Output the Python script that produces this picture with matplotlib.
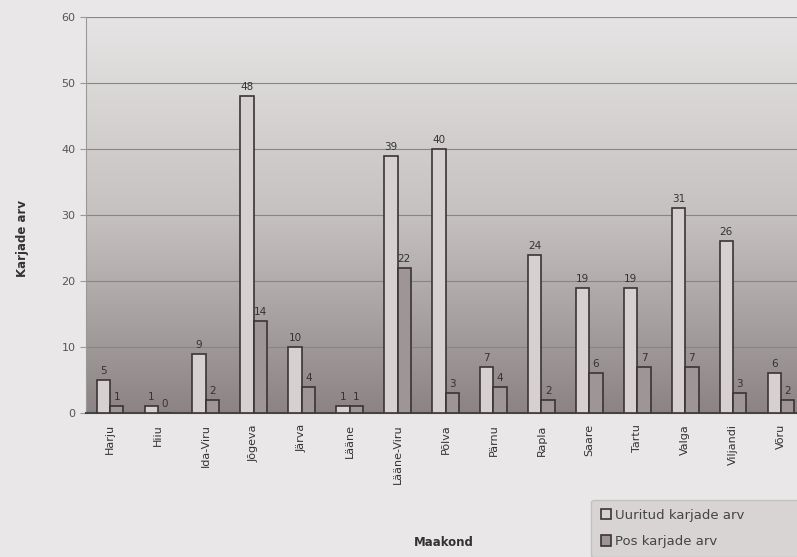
import numpy as np
import matplotlib.pyplot as plt

maakonnad = ['Harju', 'Hiiu', 'Ida-Viru', 'Jõgeva', 'Järva', 'Lääne', 'Lääne-Viru',
             'Põlva', 'Pärnu', 'Rapla', 'Saare', 'Tartu', 'Valga', 'Viljandi', 'Võru']
uuritud = [5, 1, 9, 48, 10, 1, 39, 40, 7, 24, 19, 19, 31, 26, 6]
positiivsed = [1, 0, 2, 14, 4, 1, 22, 3, 4, 2, 6, 7, 7, 3, 2]

fig = plt.figure(figsize=(7.97, 5.57), dpi=100)
fig.patch.set_facecolor('#e9e7e7')
ax = fig.add_axes([0.108, 0.2585, 0.902, 0.711])

# vertical grey gradient behind the bars
grad = np.linspace(0, 1, 256).reshape(-1, 1)
ax.imshow(grad, cmap=plt.matplotlib.colors.LinearSegmentedColormap.from_list(
    'bg', ['#8c8484', '#c6c1c1', '#e6e4e4']), aspect='auto',
    extent=[-0.5, len(maakonnad) - 0.5, 0, 60], origin='lower', zorder=0)

x = np.arange(len(maakonnad))
w = 0.28
b1 = ax.bar(x - w / 2, uuritud, w, color='#d6d0d0', edgecolor='#3a3434', linewidth=1.2,
            label='Uuritud karjade arv', zorder=3)
b2 = ax.bar(x + w / 2, positiivsed, w, color='#9e9696', edgecolor='#3a3434', linewidth=1.2,
            label='Pos karjade arv', zorder=3)

for rects, vals in ((b1, uuritud), (b2, positiivsed)):
    for r, v in zip(rects, vals):
        ax.text(r.get_x() + r.get_width() / 2, v + 0.6, str(v), ha='center', va='bottom',
                fontsize=7.5, color='#333333', zorder=4)

ax.set_xlim(-0.5, len(maakonnad) - 0.5)
ax.set_ylim(0, 60)
ax.set_yticks(range(0, 61, 10))
ax.yaxis.grid(True, color='#8a8484', linewidth=0.8, zorder=1)
ax.set_xticks(x)
ax.set_xticklabels(maakonnad, rotation=90, fontsize=8, color='#333333')
ax.tick_params(axis='y', labelsize=8, labelcolor='#555555', length=4, color='#999999')
ax.tick_params(axis='x', length=0, pad=8)
for s in ('top', 'right'):
    ax.spines[s].set_visible(False)
ax.spines['left'].set_color('#999999')
ax.spines['bottom'].set_color('#444444')
ax.spines['bottom'].set_linewidth(1.5)

ax.set_ylabel('Karjade arv', fontsize=8.5, fontweight='bold', color='#333333')
ax.yaxis.set_label_coords(-0.08, 0.44)
fig.text(0.557, 0.015, 'Maakond', ha='center', va='bottom', fontsize=8.5,
         fontweight='bold', color='#333333')

leg = fig.legend(handles=[b1, b2], loc='upper left', bbox_to_anchor=(0.742, -0.02, 0.28, 0.123),
                 mode='expand', fontsize=9.5, frameon=True, handlelength=0.8, handleheight=0.8,
                 labelspacing=1.0, borderpad=0.7, handletextpad=0.3, borderaxespad=0)
leg.get_frame().set_facecolor('#d4d0d0')
leg.get_frame().set_edgecolor('#bbbbbb')
for t in leg.get_texts():
    t.set_color('#444444')

fig.savefig('out.png', dpi=100, facecolor=fig.get_facecolor())
